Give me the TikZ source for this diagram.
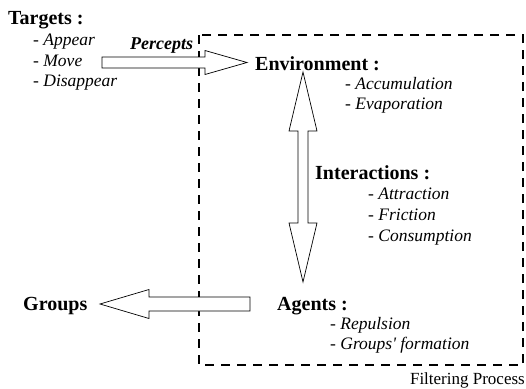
\documentclass[tikz,border=0pt]{standalone}
\usepackage{fontspec}
\setmainfont{LiberationSerif}[Extension=.ttf,UprightFont=*-Regular,ItalicFont=*-Italic,BoldFont=*-Bold,BoldItalicFont=*-BoldItalic]
\usetikzlibrary{calc}
\tikzset{
  head/.style={anchor=base west, inner sep=0pt, font=\fontsize{20}{24}\selectfont\bfseries},
  item/.style={anchor=base west, inner sep=0pt, font=\fontsize{17.5}{21}\selectfont\itshape},
  percept/.style={anchor=base west, inner sep=0pt, font=\fontsize{18}{22}\selectfont\bfseries\itshape},
  caption/.style={anchor=base east, inner sep=0pt, font=\fontsize{17}{20}\selectfont},
  hollow/.style={draw=black, fill=white, line width=0.7pt, line join=miter},
  dashbox/.style={draw=black, line width=1.8pt, dash pattern=on 9pt off 7pt}
}
\begin{document}
\begin{tikzpicture}[x=1pt,y=-1pt]
\useasboundingbox (0,0) rectangle (526,388);
% dashed frame
\draw[dashbox] (199,35) rectangle (523,365);
\node[caption] (filter) at (525,384) {Filtering Process};
% texts
\node[head] (targets) at (8,24) {Targets :};
\node[item] (appear) at (33,45) {- Appear};
\node[item] (move) at (33,66) {- Move};
\node[item] (disappear) at (33,86) {- Disappear};
\node[percept] (percepts) at (130,49) {Percepts};
\node[head] (env) at (255,70) {Environment :};
\node[item] (accum) at (345,89) {- Accumulation};
\node[item] (evap) at (345,109) {- Evaporation};
\node[head] (inter) at (315,179) {Interactions :};
\node[item] (attr) at (368,199) {- Attraction};
\node[item] (fric) at (368,220) {- Friction};
\node[item] (cons) at (368,241) {- Consumption};
\node[head] (agents) at (277,310) {Agents :};
\node[item] (repul) at (330,329) {- Repulsion};
\node[item] (gform) at (330,349) {- Groups\textquotesingle\ formation};
\node[head] (groups) at (23,310) {Groups};
% arrow end points
\coordinate (pT) at (102,62.5);
\coordinate (pH) at (247,62.5);
\coordinate (gT) at (250,304);
\coordinate (gH) at (100,304);
\coordinate (vA) at (303,72);
\coordinate (vB) at (303,282);
% percepts arrow: targets -> environment
\draw[hollow] ($(pT)+(0,-5.5)$) -- ($(pH)+(-42,-5.5)$) -- ($(pH)+(-42,-12)$) -- (pH)
  -- ($(pH)+(-42,12)$) -- ($(pH)+(-42,5.5)$) -- ($(pT)+(0,5.5)$) -- cycle;
% agents -> groups
\draw[hollow] ($(gT)+(0,-7)$) -- ($(gH)+(49,-7)$) -- ($(gH)+(49,-14.5)$) -- (gH)
  -- ($(gH)+(49,14.5)$) -- ($(gH)+(49,7)$) -- ($(gT)+(0,7)$) -- cycle;
% environment <-> agents
\draw[hollow] (vA) -- ($(vA)+(14,59)$) -- ($(vA)+(5,59)$) -- ($(vB)+(5,-59)$)
  -- ($(vB)+(14,-59)$) -- (vB) -- ($(vB)+(-14,-59)$) -- ($(vB)+(-5,-59)$)
  -- ($(vA)+(-5,59)$) -- ($(vA)+(-14,59)$) -- cycle;
\end{tikzpicture}
\end{document}
